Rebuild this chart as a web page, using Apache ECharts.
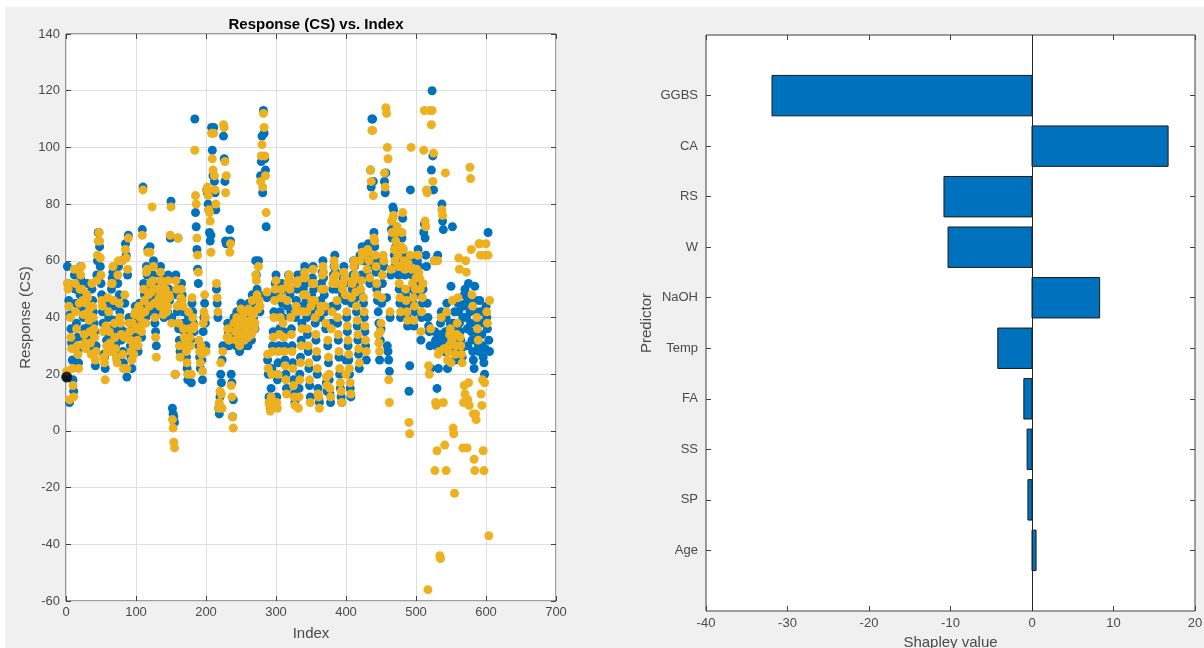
<!DOCTYPE html>
<html>
<head>
<meta charset="utf-8">
<script src="https://cdn.jsdelivr.net/npm/echarts@6/dist/echarts.min.js"></script>
<style>
html,body{margin:0;padding:0;background:#ffffff;width:1204px;height:648px;overflow:hidden;}
#bg{position:absolute;left:5px;top:7px;width:1199px;height:641px;background:#f0f0f0;}
#chart{position:absolute;left:0;top:0;width:1204px;height:648px;}
</style>
</head>
<body>
<div id="bg"></div>
<div id="chart"></div>
<script>
// ---- Data ----
const actualCS = [
19,58,52,46,10,41,36,31,25,18,
14,55,50,45,38,33,28,24,43,48,
58,53,49,44,40,36,32,30,47,52,
45,41,37,33,30,28,50,46,42,38,
35,23,30,55,60,70,70,65,58,52,
48,42,38,27,26,22,35,32,30,45,
40,36,33,30,50,54,56,44,39,35,
30,27,25,52,58,48,42,36,32,60,
28,24,35,45,66,62,19,55,69,40,
33,30,26,22,36,32,29,40,44,38,
34,30,28,42,45,38,35,33,71,86,
52,48,44,40,58,55,64,45,42,65,
50,47,44,55,60,42,38,35,30,48,
52,48,45,42,58,55,50,46,43,40,
45,52,48,44,42,55,50,46,68,81,
40,8,6,5,3,20,55,48,42,68,
36,32,28,45,52,48,42,38,35,32,
30,26,22,18,40,38,35,32,17,45,
42,38,35,110,77,72,64,57,52,30,
26,22,28,25,18,35,40,45,38,30,
85,84,80,78,70,67,69,107,99,90,
107,88,84,78,50,45,40,8,6,12,
20,17,25,30,104,96,88,67,66,30,
38,35,30,71,67,20,17,5,11,40,
36,33,30,42,38,35,32,28,40,45,
42,38,35,32,30,44,40,36,33,30,
45,40,37,35,32,48,44,40,38,36,
60,55,50,45,60,48,42,90,95,104,
84,113,105,96,92,72,47,25,20,12,
10,8,15,22,30,35,42,48,52,55,
12,18,24,30,36,42,48,52,45,40,
35,30,25,20,15,44,50,55,53,48,
42,36,30,24,18,13,10,40,46,50,
55,12,15,20,26,32,38,44,50,56,
58,52,46,40,34,28,22,16,12,42,
48,54,58,50,44,38,32,26,20,15,
12,10,40,46,52,56,60,54,48,42,
36,17,14,30,24,18,13,10,38,44,
50,55,58,62,56,50,44,38,32,26,
20,15,12,10,48,54,58,52,46,25,
40,35,30,25,20,15,12,45,50,55,
60,58,52,47,42,37,32,27,22,62,
48,55,65,60,45,40,35,30,25,55,
62,66,58,52,92,86,110,110,88,70,
65,60,56,50,46,42,38,25,32,36,
45,52,60,58,88,84,91,47,30,28,
25,21,40,55,71,68,79,78,62,58,
65,72,70,60,55,50,45,40,63,68,
75,62,58,55,48,44,40,37,57,14,
23,85,60,55,50,45,37,42,48,52,
55,60,64,58,52,48,32,40,45,50,
70,73,68,62,58,45,40,37,35,30,
22,92,120,97,85,60,35,32,30,15,
62,22,30,34,38,42,80,74,71,32,
28,35,40,45,22,30,33,36,38,51,
30,72,34,38,42,25,28,32,36,45,
42,38,35,32,29,26,40,44,48,50,
45,40,36,30,52,46,42,38,35,32,
28,25,22,51,46,42,38,34,30,28,
46,42,38,34,30,26,24,20,29,44,
40,36,70,32,28
];
const predictedCS = [
21,52,50,44,11,40,33,29,22,16,
12,57,52,42,36,30,27,22,45,50,
55,58,50,46,41,34,31,29,45,48,
47,42,39,35,31,27,52,44,40,36,
33,25,28,53,62,67,70,67,61,55,
46,44,35,26,24,18,37,30,28,47,
42,35,31,28,52,52,58,46,38,33,
29,26,24,55,60,45,40,38,34,60,
27,22,33,48,64,61,22,57,68,38,
35,32,28,25,38,30,27,41,42,36,
36,32,30,44,43,40,37,35,69,85,
50,46,42,38,56,57,63,48,44,63,
52,49,79,53,58,45,40,33,26,50,
50,46,47,44,56,53,52,48,41,42,
47,50,46,42,44,53,48,47,69,79,
38,4,1,-4,-6,20,53,50,44,68,
38,30,26,47,50,46,44,36,33,30,
32,28,24,20,42,36,33,30,20,47,
40,36,37,99,83,80,68,62,56,32,
28,24,30,27,21,38,42,48,40,28,
85,86,83,78,77,74,63,105,96,92,
105,90,85,80,52,47,42,8,10,14,
24,13,8,28,108,107,95,84,90,33,
36,33,32,63,66,16,12,5,1,38,
38,35,32,40,36,37,34,30,38,43,
40,40,37,34,32,42,38,38,35,33,
43,42,39,36,34,46,42,41,36,38,
55,53,48,43,58,46,44,88,97,101,
86,112,107,97,90,77,49,27,22,10,
9,7,12,20,28,33,40,46,50,53,
10,8,20,28,34,40,47,50,47,38,
33,28,23,18,13,46,52,53,55,50,
40,34,28,22,16,12,9,42,44,52,
53,8,12,18,24,30,36,42,48,54,
56,54,48,42,36,30,24,18,10,44,
46,52,57,52,46,40,34,28,22,13,
12,8,42,44,50,55,58,56,50,44,
38,19,16,32,26,20,15,12,36,42,
52,54,60,58,55,52,46,40,34,28,
22,17,14,10,50,52,56,54,48,20,
42,37,32,27,22,17,13,47,52,53,
58,60,55,49,44,39,34,29,24,60,
50,53,63,62,47,42,37,32,28,57,
64,63,60,54,92,88,106,106,83,68,
67,62,58,52,48,34,31,28,35,38,
47,55,62,60,91,86,114,112,100,96,
18,10,42,57,74,70,75,76,64,60,
67,70,72,62,58,52,47,42,65,70,
77,64,60,57,50,46,42,39,59,3,
-1,62,100,57,52,47,39,44,50,54,
57,62,62,56,54,50,35,42,47,52,
99,113,74,72,85,84,-56,23,20,113,
36,108,113,88,98,60,-14,10,9,-7,
60,27,28,-44,-45,40,78,76,10,29,
-5,91,-14,42,25,28,30,34,36,24,
32,46,1,-1,-22,27,30,34,38,47,
61,57,33,30,27,24,-6,10,16,13,
60,56,-6,11,17,9,93,89,64,48,
44,6,-10,-14,6,4,40,36,32,66,
66,62,13,9,18,-7,-14,17,62,66,
42,38,62,-37,46
];
const queryIndex = 1;
const queryValue = 19;

const predictors = ['GGBS','CA','RS','W','NaOH','Temp','FA','SS','SP','Age']; // top to bottom
const shapleyValues = [-31.9, 16.7, -10.8, -10.3, 8.3, -4.2, -1.0, -0.6, -0.5, 0.5];

const indexTicks = [0,100,200,300,400,500,600,700];
const responseTicks = [-60,-40,-20,0,20,40,60,80,100,120,140];
const shapleyTicks = [-40,-30,-20,-10,0,10,20];

// ---- Chart ----
const FONT = "'Liberation Sans', Arial, Helvetica, sans-serif";
const AX = '#404040';
const LBL = '#4a4a4a';
const blueColor = '#0072BD';
const yellowColor = '#EDB120';

const nPred = predictors.length;
const predPos = predictors.map((_, i) => nPred - i); // GGBS at top
const barData = shapleyValues.map((v, i) => [v, predPos[i]]);

const actualData = actualCS.map((v, i) => [i + 1, v]);
const predictedData = predictedCS.map((v, i) => [i + 1, v]);

const tickStyle = { show: true, inside: true, length: 5, lineStyle: { color: AX, width: 1 } };
const labelStyle = { color: LBL, fontFamily: FONT, fontSize: 13 };
const noLine = { show: false, onZero: false };

const chart = echarts.init(document.getElementById('chart'), null, { renderer: 'canvas' });
chart.setOption({
  backgroundColor: 'transparent',
  animation: false,
  title: {
    text: 'Response (CS) vs. Index',
    left: 311, top: 12, textAlign: 'center',
    textStyle: { fontFamily: FONT, fontSize: 15, fontWeight: 'bold', color: '#000' }
  },
  grid: [
    { left: 66, top: 34, width: 490, height: 567, show: true, backgroundColor: '#ffffff', borderColor: AX, borderWidth: 1, containLabel: false, outerBoundsMode: 'none' },
    { left: 706, top: 35, width: 489, height: 576, show: true, backgroundColor: '#ffffff', borderColor: AX, borderWidth: 1, containLabel: false, outerBoundsMode: 'none' }
  ],
  xAxis: [
    { gridIndex: 0, type: 'value', position: 'bottom', min: indexTicks[0], max: indexTicks[indexTicks.length-1], interval: 100,
      axisLine: noLine, axisTick: tickStyle,
      axisLabel: Object.assign({ margin: 5, showMinLabel: true, showMaxLabel: true }, labelStyle),
      splitLine: { show: true, lineStyle: { color: '#dedede', width: 1 } },
      name: 'Index', nameLocation: 'middle', nameGap: 25,
      nameTextStyle: { fontFamily: FONT, fontSize: 15, color: LBL } },
    { gridIndex: 0, type: 'value', position: 'top', min: 0, max: 700, interval: 100,
      axisLine: noLine, axisTick: tickStyle, axisLabel: { show: false }, splitLine: { show: false } },
    { gridIndex: 1, type: 'value', position: 'bottom', min: shapleyTicks[0], max: shapleyTicks[shapleyTicks.length-1], interval: 10,
      axisLine: noLine, axisTick: tickStyle,
      axisLabel: Object.assign({ margin: 6, showMinLabel: true, showMaxLabel: true }, labelStyle),
      splitLine: { show: false },
      name: 'Shapley value', nameLocation: 'middle', nameGap: 24,
      nameTextStyle: { fontFamily: FONT, fontSize: 15, color: LBL } },
    { gridIndex: 1, type: 'value', position: 'top', min: -40, max: 20, interval: 10,
      axisLine: noLine, axisTick: tickStyle, axisLabel: { show: false }, splitLine: { show: false } }
  ],
  yAxis: [
    { gridIndex: 0, type: 'value', position: 'left', min: responseTicks[0], max: responseTicks[responseTicks.length-1], interval: 20,
      axisLine: noLine, axisTick: tickStyle,
      axisLabel: Object.assign({ margin: 6, showMinLabel: true, showMaxLabel: true }, labelStyle),
      splitLine: { show: true, lineStyle: { color: '#dedede', width: 1 } },
      name: 'Response (CS)', nameLocation: 'middle', nameGap: 33, nameRotate: 90,
      nameTextStyle: { fontFamily: FONT, fontSize: 15, color: LBL } },
    { gridIndex: 0, type: 'value', position: 'right', min: -60, max: 140, interval: 20,
      axisLine: noLine, axisTick: tickStyle, axisLabel: { show: false }, splitLine: { show: false } },
    { gridIndex: 1, type: 'value', position: 'left', min: -0.2, max: nPred + 1.2,
      axisLine: noLine,
      axisTick: Object.assign({ customValues: predPos }, tickStyle),
      axisLabel: Object.assign({ margin: 8, customValues: predPos,
        formatter: (v) => predictors[nPred - Math.round(v)] }, labelStyle),
      splitLine: { show: false },
      name: 'Predictor', nameLocation: 'middle', nameGap: 52, nameRotate: 90,
      nameTextStyle: { fontFamily: FONT, fontSize: 15, color: LBL } },
    { gridIndex: 1, type: 'value', position: 'right', min: -0.2, max: nPred + 1.2,
      axisLine: noLine,
      axisTick: Object.assign({ customValues: predPos }, tickStyle),
      axisLabel: { show: false }, splitLine: { show: false } }
  ],
  series: [
    { name: 'True', type: 'scatter', xAxisIndex: 0, yAxisIndex: 0, data: actualData,
      symbol: 'circle', symbolSize: 9, itemStyle: { color: blueColor, opacity: 1 }, z: 2 },
    { name: 'Predicted', type: 'scatter', xAxisIndex: 0, yAxisIndex: 0, data: predictedData,
      symbol: 'circle', symbolSize: 9, itemStyle: { color: yellowColor, opacity: 1 }, z: 3 },
    { name: 'Query point', type: 'scatter', xAxisIndex: 0, yAxisIndex: 0, data: [[queryIndex, queryValue]],
      symbol: 'circle', symbolSize: 11, itemStyle: { color: '#000000' }, z: 4 },
    { name: 'Shapley', type: 'custom', xAxisIndex: 2, yAxisIndex: 2, data: barData,
      encode: { x: 0, y: 1 },
      renderItem: function (params, api) {
        const v = api.value(0), p = api.value(1);
        const a = api.coord([0, p]);
        const b = api.coord([v, p]);
        const h = api.size([0, 0.8])[1];
        return {
          type: 'rect',
          shape: { x: Math.min(a[0], b[0]), y: a[1] - h / 2, width: Math.abs(b[0] - a[0]), height: h },
          style: { fill: blueColor, stroke: '#1a1a1a', lineWidth: 1 }
        };
      },
      markLine: {
        silent: true, symbol: ['none', 'none'], label: { show: false },
        lineStyle: { color: '#262626', width: 1, type: 'solid' },
        data: [{ xAxis: 0 }]
      },
      z: 3 }
  ]
});
</script>
</body>
</html>
